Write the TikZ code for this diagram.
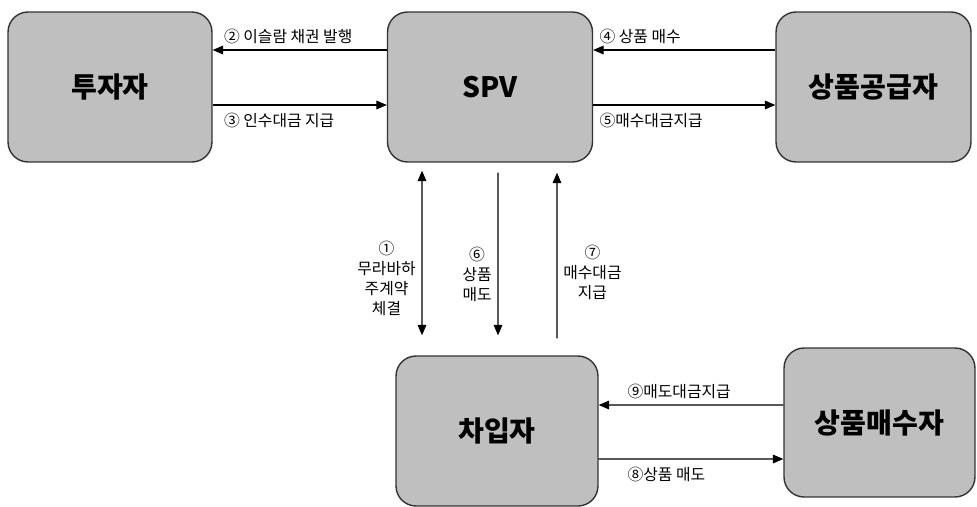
\documentclass[tikz,border=0pt]{standalone}
\usepackage{fontspec}
\setmainfont{Noto Sans CJK KR}
\usetikzlibrary{arrows.meta, positioning}

\begin{document}
\begin{tikzpicture}[
    x=0.02cm, y=-0.02cm,
    every node/.style={font=\fontsize{9}{11.4}\selectfont},
    party/.style={
        rectangle, draw=black!80, fill=black!25, rounded corners=0.4cm,
        line width=0.8pt, align=center,
        minimum height=3cm,
        font=\fontsize{16}{19}\selectfont\bfseries
    },
    arrow/.style={-{Triangle[length=6pt, width=5pt]}, line width=0.6pt},
    dblarrow/.style={{Triangle[length=6pt, width=5pt]}-{Triangle[length=6pt, width=5pt]}, line width=0.6pt}
]
\useasboundingbox (0,0) rectangle (977,507);

% --- Top row ---
\node[party, minimum width=4.08cm] (inv) at (110,87) {투자자};
\node[party, minimum width=4.1cm] (spv) at (490,87) {SPV};
\node[party, minimum width=3.9cm] (sup) at (873.5,87) {상품공급자};

% --- Bottom row ---
\node[party, minimum width=4.04cm] (bor) at (497,431) {차입자};
\node[party, minimum width=3.82cm, minimum height=2.98cm] (buy) at (879.5,422.5) {상품매수자};

% --- SPV <-> 투자자 ---
\draw[arrow] ([yshift=0.74cm]spv.west) -- node[pos=1, above right, xshift=0.1cm]{② 이슬람 채권 발행} ([yshift=0.74cm]inv.east);
\draw[arrow] ([yshift=-0.36cm]inv.east) -- node[pos=0, below right, xshift=0.1cm, yshift=-0.04cm]{③ 인수대금 지급} ([yshift=-0.36cm]spv.west);

% --- SPV <-> 상품공급자 ---
\draw[arrow] ([yshift=0.74cm]sup.west) -- node[pos=1, above right]{④ 상품 매수} ([yshift=0.74cm]spv.east);
\draw[arrow] ([yshift=-0.36cm]spv.east) -- node[pos=0, below right, yshift=-0.04cm]{⑤매수대금지급} ([yshift=-0.36cm]sup.west);

% --- SPV <-> 차입자 ---
\draw[dblarrow, shorten <=0.16cm, shorten >=0.4cm] ([xshift=-1.36cm]spv.south) -- node[pos=0.6, left, align=center]{①\\무라바하\\주계약\\체결} ([xshift=-1.5cm]bor.north);
\draw[arrow, shorten <=0.2cm, shorten >=0.4cm] ([xshift=0.16cm]spv.south) -- node[pos=0.58, left, align=center]{⑥\\상품\\매도} ([xshift=0.02cm]bor.north);
\draw[arrow, shorten <=0.34cm, shorten >=0.2cm] ([xshift=1.2cm]bor.north) -- node[pos=0.43, right, align=center]{⑦\\매수대금\\지급} ([xshift=1.34cm]spv.south);

% --- 차입자 <-> 상품매수자 ---
\draw[arrow] ([yshift=0.35cm]buy.west) -- node[pos=1, above right, xshift=0.45cm]{⑨매도대금지급} ([yshift=0.52cm]bor.east);
\draw[arrow] ([yshift=-0.56cm]bor.east) -- node[pos=0, below right, xshift=0.45cm, yshift=-0.04cm]{⑧상품 매도} ([yshift=-0.73cm]buy.west);

\end{tikzpicture}
\end{document}
